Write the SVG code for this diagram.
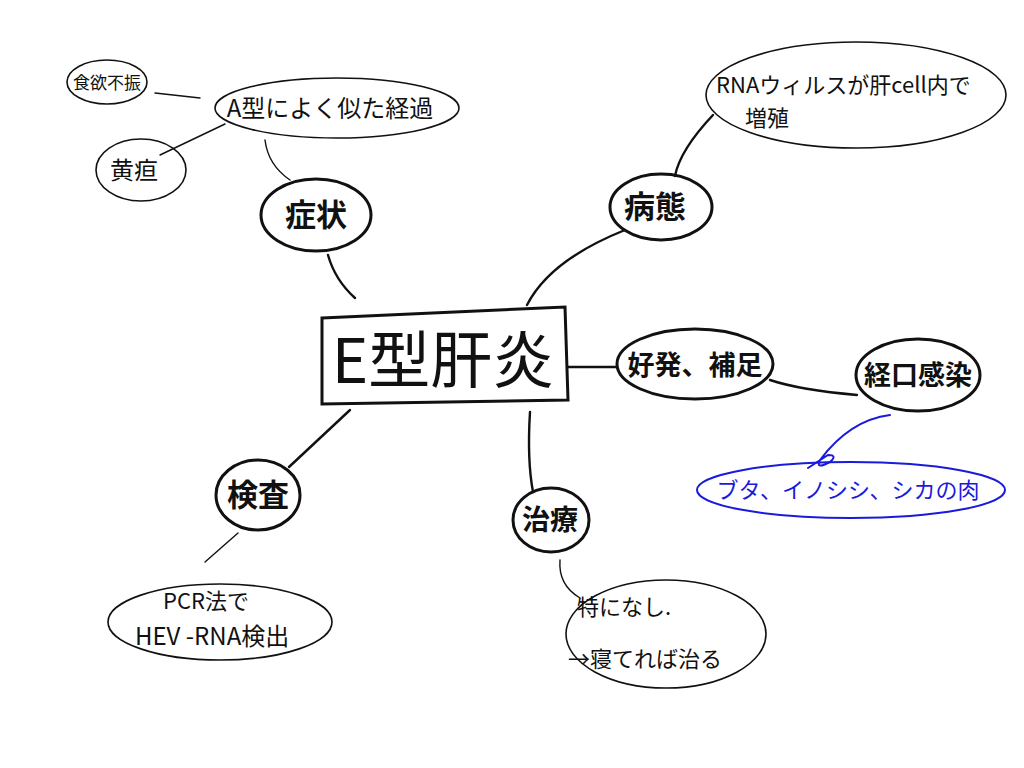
<svg xmlns="http://www.w3.org/2000/svg" width="1024" height="768" viewBox="0 0 1024 768">
<style>
.bg{fill:#fff}
.main{fill:none;stroke:#111;stroke-width:3;stroke-linecap:round}
.sub{fill:none;stroke:#111;stroke-width:1.6;stroke-linecap:round}
.blue{fill:none;stroke:#1a1adc;stroke-width:2;stroke-linecap:round}
.line{fill:none;stroke:#111;stroke-width:2.4;stroke-linecap:round}
.thin{fill:none;stroke:#111;stroke-width:1.4;stroke-linecap:round}
text{font-family:"Noto Sans CJK JP","Noto Sans CJK SC",sans-serif;fill:#111}
.t1{font-size:31px;font-weight:700}
.t2{font-size:22px}
.tc{font-size:62px}
.tb{font-size:22px;fill:#1a1adc}
</style>
<rect class="bg" width="1024" height="768"/>
<g id="connectors">
<path class="line" d="M355,298 Q335,280 328,255"/>
<path class="thin" d="M290,180 Q268,165 265,140"/>
<path class="thin" d="M155,93 L200,98"/>
<path class="thin" d="M160,155 L225,124"/>
<path class="line" d="M527,305 Q550,260 625,230"/>
<path class="line" d="M675,176 Q680,150 713,115"/>
<path class="line" d="M568,367 L617,367"/>
<path class="line" d="M770,380 Q800,390 857,395"/>
<path class="blue" d="M890,415 Q850,420 820,460 Q815,470 830,462 Q838,455 828,455 L808,468"/>
<path class="line" d="M350,410 L289,467"/>
<path class="thin" d="M238,533 L205,562"/>
<path class="line" d="M530,412 Q527,460 533,492"/>
<path class="thin" d="M560,560 Q558,585 580,598"/>
</g>
<g id="center">
<path class="main" d="M322,318 L565,307 L568,400 L322,404 Z"/>
<text class="tc" x="443" y="383" text-anchor="middle">E型肝炎</text>
</g>
<g id="shojo">
<ellipse class="main" cx="316" cy="215" rx="55" ry="36"/>
<text class="t1" x="316" y="226" text-anchor="middle">症状</text>
</g>
<g id="a-gata">
<ellipse class="sub" cx="337" cy="108" rx="122" ry="30"/>
<text class="t2" x="330" y="117" text-anchor="middle" style="font-size:24px">A型によく似た経過</text>
</g>
<g id="shokuyoku">
<ellipse class="sub" cx="107" cy="82" rx="40" ry="22"/>
<text class="t2" x="107" y="89" text-anchor="middle" style="font-size:17px">食欲不振</text>
</g>
<g id="oudan">
<ellipse class="sub" cx="141" cy="170" rx="45" ry="31"/>
<text class="t2" x="134" y="179" text-anchor="middle" style="font-size:24px">黄疸</text>
</g>
<g id="byotai">
<ellipse class="main" cx="661" cy="207" rx="51" ry="33"/>
<text class="t1" x="655" y="218" text-anchor="middle">病態</text>
</g>
<g id="rna">
<ellipse class="sub" cx="856" cy="95" rx="150" ry="53"/>
<text class="t2" x="716" y="93" style="font-size:22px">RNAウィルスが肝cell内で</text>
<text class="t2" x="745" y="126" style="font-size:22px">増殖</text>
</g>
<g id="kohatsu">
<ellipse class="main" cx="695" cy="364" rx="78" ry="35"/>
<text class="t1" x="695" y="375" text-anchor="middle" style="font-size:27px">好発、補足</text>
</g>
<g id="keiko">
<ellipse class="main" cx="918" cy="375" rx="62" ry="36"/>
<text class="t1" x="918" y="385" text-anchor="middle" style="font-size:27px">経口感染</text>
</g>
<g id="meat">
<ellipse class="blue" cx="851" cy="490" rx="154" ry="28"/>
<text class="tb" x="848" y="498" text-anchor="middle">ブタ、イノシシ、シカの肉</text>
</g>
<g id="kensa">
<ellipse class="main" cx="258" cy="495" rx="42" ry="35"/>
<text class="t1" x="258" y="506" text-anchor="middle">検査</text>
</g>
<g id="pcr">
<ellipse class="sub" cx="220" cy="622" rx="112" ry="38"/>
<text class="t2" x="163" y="609">PCR法で</text>
<text class="t2" x="135" y="645" style="font-size:24px">HEV -RNA検出</text>
</g>
<g id="chiryo">
<ellipse class="main" cx="551" cy="520" rx="38" ry="32"/>
<text class="t1" x="550" y="530" text-anchor="middle" style="font-size:28px">治療</text>
</g>
<g id="tokuni">
<ellipse class="sub" cx="666" cy="634" rx="100" ry="54"/>
<text class="t2" x="577" y="615">特になし.</text>
<text class="t2" x="568" y="667">→寝てれば治る</text>
</g>
</svg>
